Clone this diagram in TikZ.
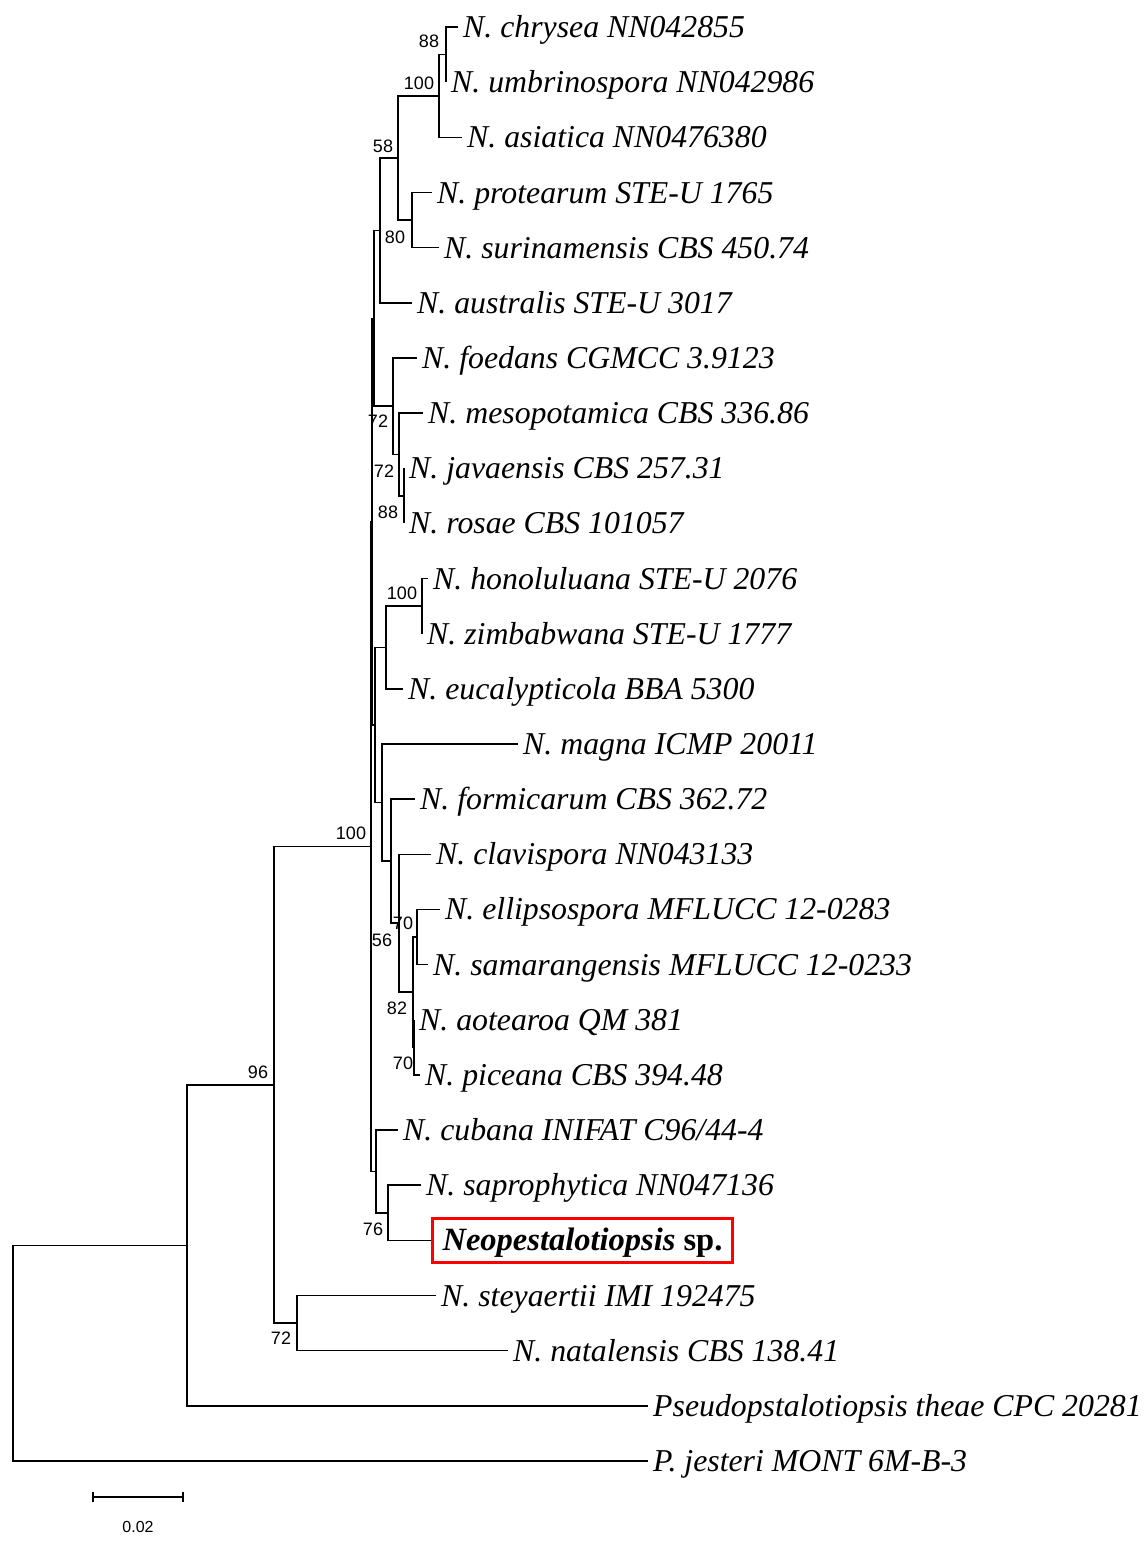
\documentclass[tikz,border=0pt]{standalone}
\usepackage{fontspec}
\setmainfont{Liberation Serif}
\newfontfamily\arialf{Liberation Sans}
\begin{document}
\begin{tikzpicture}[x=1pt,y=-1pt,
  br/.style={line width=1.5pt, line join=miter},
  tip/.style={anchor=west, inner xsep=5pt, inner ysep=0pt, text height=21pt, text depth=0pt,
    font=\fontsize{31.8}{36}\selectfont\itshape},
  bs/.style={font=\arialf\fontsize{18}{21}\selectfont, inner sep=0pt}]
\useasboundingbox (0,0) rectangle (1143,1560);
% internal nodes
\coordinate (root) at (13,1353.1);
\coordinate (n187) at (187,1245.3);
\coordinate (n274) at (274,1084.8);
\coordinate (n297) at (297,1323.05);
\coordinate (c100) at (371,846.5);
\coordinate (nZ) at (372,521.65);
\coordinate (nX1) at (374,318.3);
\coordinate (n380) at (380,230.4);
\coordinate (n398) at (398,158);
\coordinate (n439) at (439,95.95);
\coordinate (n446) at (446,54.6);
\coordinate (n412) at (412,220.05);
\coordinate (n393) at (393,406.2);
\coordinate (n399a) at (399,454.45);
\coordinate (n404) at (404,495.8);
\coordinate (nY) at (375,725);
\coordinate (n386) at (386,647.45);
\coordinate (n422) at (422,606.1);
\coordinate (n382) at (382,802.6);
\coordinate (n391) at (391,861.15);
\coordinate (n399b) at (399,923.2);
\coordinate (n413) at (413,992.15);
\coordinate (n417) at (417,937);
\coordinate (n414) at (414,1047.3);
\coordinate (nB) at (376,1171.4);
\coordinate (n388) at (388,1212.75);
% tips
\node[tip] (t1) at (458,27) {N. chrysea NN042855};
\node[tip] (t2) at (446,82.2) {N. umbrinospora NN042986};
\node[tip] (t3) at (462,137.3) {N. asiatica NN0476380};
\node[tip] (t4) at (432,192.5) {N. protearum STE-U 1765};
\node[tip] (t5) at (439,247.6) {N. surinamensis CBS 450.74};
\node[tip] (t6) at (412,302.8) {N. australis STE-U 3017};
\node[tip] (t7) at (417,357.9) {N. foedans CGMCC 3.9123};
\node[tip] (t8) at (423,413.1) {N. mesopotamica CBS 336.86};
\node[tip] (t9) at (404,468.2) {N. javaensis CBS 257.31};
\node[tip] (t10) at (404,523.4) {N. rosae CBS 101057};
\node[tip] (t11) at (428,578.5) {N. honoluluana STE-U 2076};
\node[tip] (t12) at (422,633.7) {N. zimbabwana STE-U 1777};
\node[tip] (t13) at (403,688.8) {N. eucalypticola BBA 5300};
\node[tip] (t14) at (518,744.0) {N. magna ICMP 20011};
\node[tip] (t15) at (415,799.1) {N. formicarum CBS 362.72};
\node[tip] (t16) at (431,854.3) {N. clavispora NN043133};
\node[tip] (t17) at (440,909.4) {N. ellipsospora MFLUCC 12-0283};
\node[tip] (t18) at (428,964.6) {N. samarangensis MFLUCC 12-0233};
\node[tip] (t19) at (414,1019.7) {N. aotearoa QM 381};
\node[tip] (t20) at (420,1074.9) {N. piceana CBS 394.48};
\node[tip] (t21) at (398,1130.0) {N. cubana INIFAT C96/44-4};
\node[tip] (t22) at (421,1185.2) {N. saprophytica NN047136};
\node[tip, draw=red, line width=3pt, inner xsep=0pt, inner ysep=11.5pt, minimum width=300pt,
  font=\fontsize{32.5}{36}\selectfont\bfseries] (t23) at (431,1240.3) {\textit{Neopestalotiopsis} sp.};
\node[tip] (t24) at (436,1295.5) {N. steyaertii IMI 192475};
\node[tip] (t25) at (508,1350.6) {N. natalensis CBS 138.41};
\node[tip] (t26) at (648,1405.8) {Pseudopstalotiopsis theae CPC 20281};
\node[tip] (t27) at (648,1460.9) {P. jesteri MONT 6M-B-3};
% branches
\draw[br] (root) |- (n187) (root) |- (t27.west);
\draw[br] (n187) |- (n274) (n187) |- (t26.west);
\draw[br] (n274) |- (c100) (n274) |- (n297);
\draw[br] (n297) |- (t24.west) (n297) |- (t25.west);
\draw[br] (c100) |- (nZ) (c100) |- (nB);
\draw[br] (nZ) |- (nX1) (nZ) |- (nY);
\draw[br] (nX1) |- (n380) (nX1) |- (n393);
\draw[br] (n380) |- (n398) (n380) |- (t6.west);
\draw[br] (n398) |- (n439) (n398) |- (n412);
\draw[br] (n439) |- (n446) (n439) |- (t3.west);
\draw[br] (n446) |- (t1.west) (n446) |- (t2.west);
\draw[br] (n412) |- (t4.west) (n412) |- (t5.west);
\draw[br] (n393) |- (t7.west) (n393) |- (n399a);
\draw[br] (n399a) |- (t8.west) (n399a) |- (n404);
\draw[br] (n404) |- (t9.west) (n404) |- (t10.west);
\draw[br] (nY) |- (n386) (nY) |- (n382);
\draw[br] (n386) |- (n422) (n386) |- (t13.west);
\draw[br] (n422) |- (t11.west) (n422) |- (t12.west);
\draw[br] (n382) |- (t14.west) (n382) |- (n391);
\draw[br] (n391) |- (t15.west) (n391) |- (n399b);
\draw[br] (n399b) |- (t16.west) (n399b) |- (n413);
\draw[br] (n413) |- (n417) (n413) |- (n414);
\draw[br] (n417) |- (t17.west) (n417) |- (t18.west);
\draw[br] (n414) |- (t19.west) (n414) |- (t20.west);
\draw[br] (nB) |- (t21.west) (nB) |- (n388);
\draw[br] (n388) |- (t22.west) (n388) |- (t23.west);
% bootstrap values
\node[bs] (b1) at (429,41) {88};
\node[bs] (b2) at (419,83) {100};
\node[bs] (b3) at (383,146) {58};
\node[bs] (b4) at (395,237) {80};
\node[bs] (b5) at (378,421) {72};
\node[bs] (b6) at (384,471) {72};
\node[bs] (b7) at (388,512) {88};
\node[bs] (b8) at (402,593) {100};
\node[bs] (b9) at (351,833) {100};
\node[bs] (b10) at (403,923) {70};
\node[bs] (b11) at (382,940) {56};
\node[bs] (b12) at (397,1008) {82};
\node[bs] (b13) at (403,1063) {70};
\node[bs] (b14) at (258,1072) {96};
\node[bs] (b15) at (373,1229) {76};
\node[bs] (b16) at (281,1338) {72};
% scale bar
\coordinate (sb1) at (93,1497);
\coordinate (sb2) at (183,1497);
\draw[br] (sb1) -- (sb2);
\draw[br] ([yshift=-5pt]sb1) -- ([yshift=5pt]sb1);
\draw[br] ([yshift=-5pt]sb2) -- ([yshift=5pt]sb2);
\node[bs, font=\arialf\fontsize{16}{19}\selectfont] (sbl) at (138,1527) {0.02};
\end{tikzpicture}
\end{document}
